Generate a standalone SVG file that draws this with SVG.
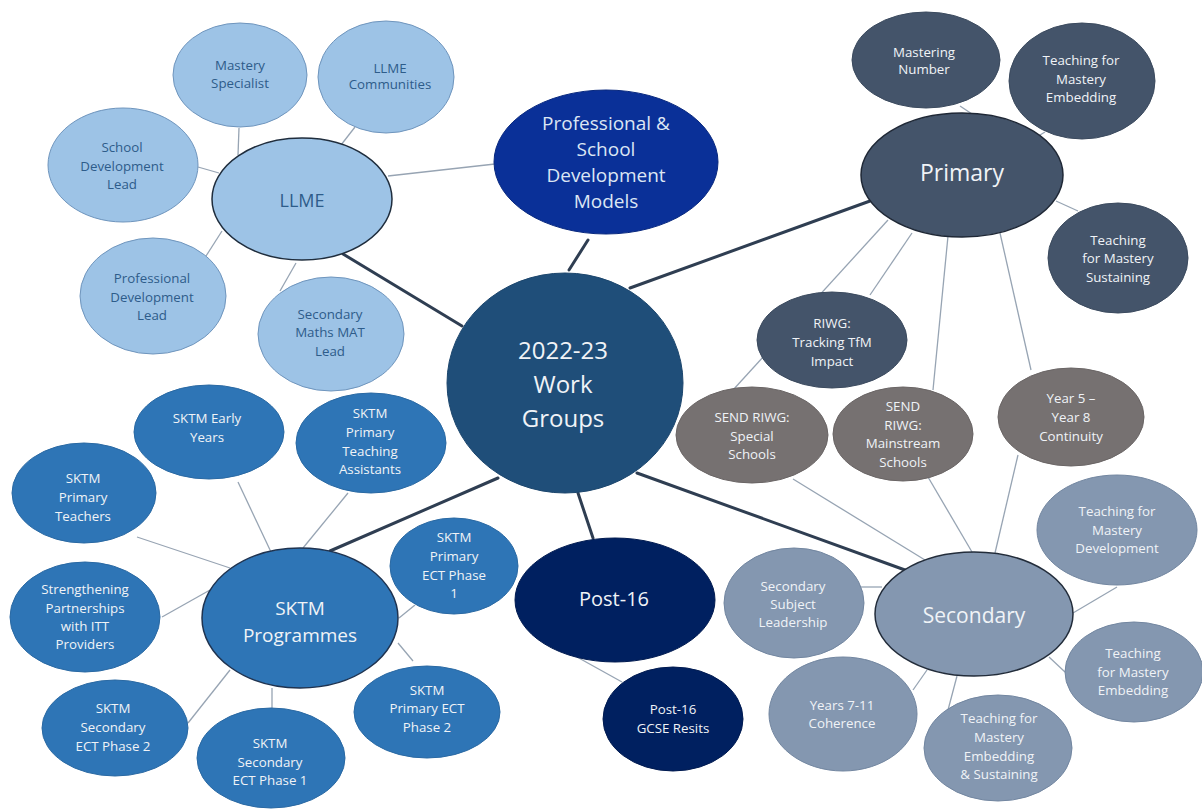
<svg xmlns="http://www.w3.org/2000/svg" width="1202" height="809" viewBox="0 0 1202 809">
<style>
.thick{stroke:#2f3e52;stroke-width:3;fill:none;stroke-linecap:round}
.thin{stroke:#97a4b3;stroke-width:1.3;fill:none}
.lb{fill:#9dc3e6;stroke:#6f95bd;stroke-width:1}
.lbh{fill:#9dc3e6;stroke:#1f2d3d;stroke-width:1.5}
.pd{fill:#0a3098;stroke:#08287e;stroke-width:1}
.ctr{fill:#1f4e79;stroke:#1c466d;stroke-width:1}
.pr{fill:#44546a;stroke:#3b4a5e;stroke-width:1}
.prh{fill:#44546a;stroke:#1f2836;stroke-width:1.5}
.gr{fill:#767171;stroke:#6a6565;stroke-width:1}
.sc{fill:#8497b0;stroke:#7286a0;stroke-width:1}
.sch{fill:#8497b0;stroke:#222c3a;stroke-width:1.5}
.sk{fill:#2e75b6;stroke:#2a69a3;stroke-width:1}
.skh{fill:#2e75b6;stroke:#1f3350;stroke-width:1.5}
.p16{fill:#002060;stroke:#001a50;stroke-width:1}
text{font-family:"Open Sans","Noto Sans","Liberation Sans",sans-serif;text-anchor:middle}
.s{font-size:13.3px}
.dk{fill:#2e5c8a}
.wt{fill:#f0f3f7}
.lt{fill:#dce6f4}
</style>
<g id="connectors">
  <line class="thick" x1="343" y1="254" x2="462" y2="326"/>
  <line class="thick" x1="569" y1="270" x2="588" y2="240"/>
  <line class="thick" x1="630" y1="288" x2="870" y2="201"/>
  <line class="thick" x1="498" y1="478" x2="330" y2="551"/>
  <line class="thick" x1="578" y1="493" x2="593" y2="538"/>
  <line class="thick" x1="637" y1="473" x2="905" y2="570"/>
  <line class="thin" x1="388" y1="176" x2="495" y2="164"/>
  <line class="thin" x1="239" y1="128" x2="238" y2="155"/>
  <line class="thin" x1="355" y1="127" x2="341" y2="145"/>
  <line class="thin" x1="198" y1="167" x2="219" y2="173"/>
  <line class="thin" x1="206" y1="256" x2="222" y2="231"/>
  <line class="thin" x1="280" y1="291" x2="296" y2="263"/>
  <line class="thin" x1="960" y1="106" x2="972" y2="114"/>
  <line class="thin" x1="1045" y1="132" x2="1035" y2="138"/>
  <line class="thin" x1="1056" y1="201" x2="1078" y2="211"/>
  <line class="thin" x1="888" y1="220" x2="733" y2="390"/>
  <line class="thin" x1="912" y1="233" x2="870" y2="295"/>
  <line class="thin" x1="948" y1="236" x2="933" y2="390"/>
  <line class="thin" x1="1000" y1="233" x2="1031" y2="370"/>
  <line class="thin" x1="793" y1="479" x2="925" y2="560"/>
  <line class="thin" x1="928" y1="477" x2="972" y2="552"/>
  <line class="thin" x1="1018" y1="455" x2="995" y2="553"/>
  <line class="thin" x1="857" y1="587" x2="882" y2="587"/>
  <line class="thin" x1="1117" y1="587" x2="1073" y2="613"/>
  <line class="thin" x1="1049" y1="657" x2="1065" y2="672"/>
  <line class="thin" x1="948" y1="710" x2="957" y2="676"/>
  <line class="thin" x1="913" y1="690" x2="927" y2="670"/>
  <line class="thin" x1="577" y1="657" x2="622" y2="682"/>
  <line class="thin" x1="238" y1="482" x2="271" y2="552"/>
  <line class="thin" x1="348" y1="493" x2="303" y2="548"/>
  <line class="thin" x1="137" y1="537" x2="230" y2="568"/>
  <line class="thin" x1="162" y1="617" x2="210" y2="590"/>
  <line class="thin" x1="188" y1="723" x2="230" y2="670"/>
  <line class="thin" x1="272" y1="688" x2="272" y2="708"/>
  <line class="thin" x1="413" y1="661" x2="398" y2="643"/>
  <line class="thin" x1="415" y1="605" x2="399" y2="618"/>
</g>

<g id="mastery-specialist"><ellipse class="lb" cx="240" cy="75" rx="67" ry="52"/><text class="s dk"><tspan x="240" y="69.5">Mastery</tspan><tspan x="240" y="87.5">Specialist</tspan></text></g>
<g id="llme-communities"><ellipse class="lb" cx="386" cy="77" rx="68" ry="56"/><text class="s dk"><tspan x="390" y="72.5">LLME</tspan><tspan x="390" y="88.5">Communities</tspan></text></g>
<g id="school-dev-lead"><ellipse class="lb" cx="123" cy="165" rx="75" ry="57"/><text class="s dk"><tspan x="122" y="151.5">School</tspan><tspan x="122" y="170.5">Development</tspan><tspan x="122" y="188.5">Lead</tspan></text></g>
<g id="prof-dev-lead"><ellipse class="lb" cx="153" cy="296" rx="73" ry="58"/><text class="s dk"><tspan x="152" y="282.5">Professional</tspan><tspan x="152" y="301.5">Development</tspan><tspan x="152" y="319.5">Lead</tspan></text></g>
<g id="sec-maths-mat-lead"><ellipse class="lb" cx="331" cy="334" rx="73" ry="57"/><text class="s dk"><tspan x="330" y="318.5">Secondary</tspan><tspan x="330" y="336.5">Maths MAT</tspan><tspan x="330" y="355.5">Lead</tspan></text></g>
<g id="llme"><ellipse class="lbh" cx="302" cy="199" rx="90" ry="61"/><text class="dk" x="302" y="206.5" font-size="18">LLME</text></g>

<g id="prof-school-dev"><ellipse class="pd" cx="606" cy="162" rx="112" ry="72"/><text class="lt" font-size="19"><tspan x="606" y="129.5">Professional &amp;</tspan><tspan x="606" y="156">School</tspan><tspan x="606" y="181.5">Development</tspan><tspan x="606" y="208">Models</tspan></text></g>

<g id="work-groups"><ellipse class="ctr" cx="565" cy="383" rx="118" ry="110"/><text class="wt" font-size="24"><tspan x="563" y="358.5">2022-23</tspan><tspan x="563" y="392.5">Work</tspan><tspan x="563" y="426.5">Groups</tspan></text></g>

<g id="mastering-number"><ellipse class="pr" cx="926" cy="60" rx="74" ry="48"/><text class="s wt"><tspan x="924" y="56.5">Mastering</tspan><tspan x="924" y="73.5">Number</tspan></text></g>
<g id="tfm-embedding-primary"><ellipse class="pr" cx="1082" cy="81" rx="73" ry="58"/><text class="s wt"><tspan x="1081" y="64.5">Teaching for</tspan><tspan x="1081" y="83.5">Mastery</tspan><tspan x="1081" y="101.5">Embedding</tspan></text></g>
<g id="tfm-sustaining"><ellipse class="pr" cx="1118" cy="258" rx="70" ry="55"/><text class="s wt"><tspan x="1118" y="244.5">Teaching</tspan><tspan x="1118" y="262.5">for Mastery</tspan><tspan x="1118" y="281.5">Sustaining</tspan></text></g>
<g id="primary"><ellipse class="prh" cx="962" cy="175" rx="101" ry="62"/><text class="wt" x="962" y="181" font-size="23">Primary</text></g>
<g id="riwg-tracking"><ellipse class="pr" cx="832" cy="340" rx="75" ry="48"/><text class="s wt"><tspan x="832" y="327.5">RIWG:</tspan><tspan x="832" y="346.5">Tracking TfM</tspan><tspan x="832" y="365.5">Impact</tspan></text></g>

<g id="send-special"><ellipse class="gr" cx="752" cy="435" rx="76" ry="48"/><text class="s wt"><tspan x="752" y="421.5">SEND RIWG:</tspan><tspan x="752" y="440.5">Special</tspan><tspan x="752" y="458.5">Schools</tspan></text></g>
<g id="send-mainstream"><ellipse class="gr" cx="903" cy="434" rx="70" ry="47"/><text class="s wt"><tspan x="903" y="410.5">SEND</tspan><tspan x="903" y="429.5">RIWG:</tspan><tspan x="903" y="447.5">Mainstream</tspan><tspan x="903" y="466.5">Schools</tspan></text></g>
<g id="year5-year8"><ellipse class="gr" cx="1071" cy="417" rx="73" ry="49"/><text class="s wt"><tspan x="1071" y="402.5">Year 5 –</tspan><tspan x="1071" y="421.5">Year 8</tspan><tspan x="1071" y="440.5">Continuity</tspan></text></g>

<g id="tfm-development"><ellipse class="sc" cx="1117" cy="530" rx="80" ry="55"/><text class="s wt"><tspan x="1117" y="515.5">Teaching for</tspan><tspan x="1117" y="534.5">Mastery</tspan><tspan x="1117" y="552.5">Development</tspan></text></g>
<g id="tfm-embedding-secondary"><ellipse class="sc" cx="1134" cy="672" rx="69" ry="50"/><text class="s wt"><tspan x="1133" y="657.5">Teaching</tspan><tspan x="1133" y="676.5">for Mastery</tspan><tspan x="1133" y="694.5">Embedding</tspan></text></g>
<g id="tfm-embedding-sustaining"><ellipse class="sc" cx="998" cy="748" rx="74" ry="53"/><text class="s wt"><tspan x="999" y="722.5">Teaching for</tspan><tspan x="999" y="741.5">Mastery</tspan><tspan x="999" y="760.5">Embedding</tspan><tspan x="999" y="778.5">&amp; Sustaining</tspan></text></g>
<g id="years-7-11"><ellipse class="sc" cx="843" cy="714" rx="74" ry="57"/><text class="s wt"><tspan x="842" y="709.5">Years 7-11</tspan><tspan x="842" y="727.5">Coherence</tspan></text></g>
<g id="subject-leadership"><ellipse class="sc" cx="794" cy="603" rx="70" ry="55"/><text class="s wt"><tspan x="793" y="590.5">Secondary</tspan><tspan x="793" y="608.5">Subject</tspan><tspan x="793" y="626.5">Leadership</tspan></text></g>
<g id="secondary"><ellipse class="sch" cx="974" cy="614" rx="99" ry="62"/><text class="wt" x="974" y="622.5" font-size="21">Secondary</text></g>

<g id="post-16"><ellipse class="p16" cx="615" cy="600" rx="100" ry="62"/><text class="wt" x="614" y="606" font-size="20">Post-16</text></g>
<g id="gcse-resits"><ellipse class="p16" cx="673" cy="719" rx="70" ry="52"/><text class="s wt"><tspan x="673" y="713.5">Post-16</tspan><tspan x="673" y="732.5">GCSE Resits</tspan></text></g>

<g id="sktm-early-years"><ellipse class="sk" cx="209" cy="432" rx="75" ry="47"/><text class="s wt"><tspan x="207" y="422.5">SKTM Early</tspan><tspan x="207" y="441.5">Years</tspan></text></g>
<g id="sktm-primary-ta"><ellipse class="sk" cx="371" cy="443" rx="75" ry="50"/><text class="s wt"><tspan x="370" y="417.5">SKTM</tspan><tspan x="370" y="436.5">Primary</tspan><tspan x="370" y="455.5">Teaching</tspan><tspan x="370" y="473.5">Assistants</tspan></text></g>
<g id="sktm-primary-teachers"><ellipse class="sk" cx="84" cy="493" rx="72" ry="50"/><text class="s wt"><tspan x="83" y="482.5">SKTM</tspan><tspan x="83" y="501.5">Primary</tspan><tspan x="83" y="520.5">Teachers</tspan></text></g>
<g id="strengthening-partnerships"><ellipse class="sk" cx="85" cy="617" rx="75" ry="55"/><text class="s wt"><tspan x="85" y="593.5">Strengthening</tspan><tspan x="85" y="612.5">Partnerships</tspan><tspan x="85" y="630.5">with ITT</tspan><tspan x="85" y="648.5">Providers</tspan></text></g>
<g id="sktm-sec-ect2"><ellipse class="sk" cx="115" cy="728" rx="73" ry="48"/><text class="s wt"><tspan x="113" y="712.5">SKTM</tspan><tspan x="113" y="731.5">Secondary</tspan><tspan x="113" y="750.5">ECT Phase 2</tspan></text></g>
<g id="sktm-sec-ect1"><ellipse class="sk" cx="271" cy="758" rx="74" ry="50"/><text class="s wt"><tspan x="270" y="747.5">SKTM</tspan><tspan x="270" y="766.5">Secondary</tspan><tspan x="270" y="784.5">ECT Phase 1</tspan></text></g>
<g id="sktm-primary-ect2"><ellipse class="sk" cx="427" cy="712" rx="73" ry="46"/><text class="s wt"><tspan x="427" y="694.5">SKTM</tspan><tspan x="427" y="712.5">Primary ECT</tspan><tspan x="427" y="731.5">Phase 2</tspan></text></g>
<g id="sktm-primary-ect1"><ellipse class="sk" cx="454" cy="566" rx="64" ry="48"/><text class="s wt"><tspan x="454" y="541.5">SKTM</tspan><tspan x="454" y="560.5">Primary</tspan><tspan x="454" y="579.5">ECT Phase</tspan><tspan x="454" y="597.5">1</tspan></text></g>
<g id="sktm-programmes"><ellipse class="skh" cx="300" cy="618" rx="98" ry="70"/><text class="wt" font-size="19"><tspan x="300" y="614.5">SKTM</tspan><tspan x="300" y="641.5">Programmes</tspan></text></g>
</svg>
